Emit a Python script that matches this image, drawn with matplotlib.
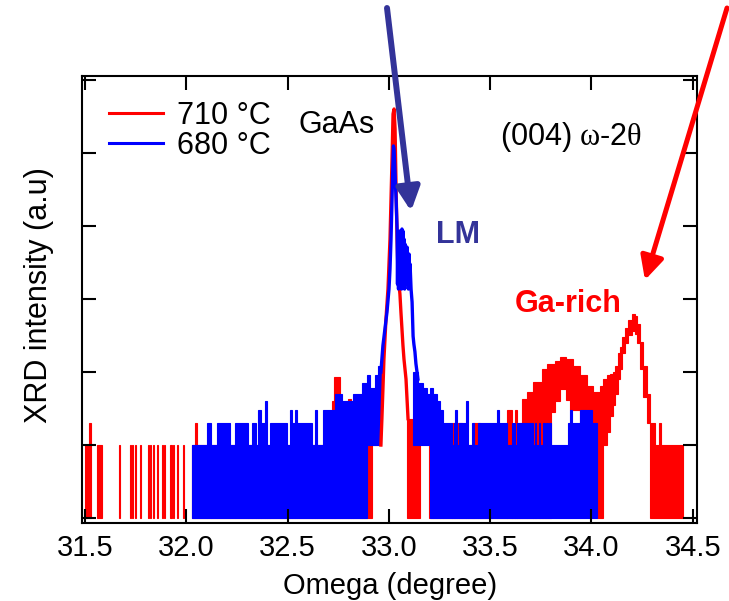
import numpy as np
import matplotlib
matplotlib.use("Agg")
import matplotlib.pyplot as plt
from matplotlib.lines import Line2D
from matplotlib.ticker import LogLocator, NullLocator, FixedLocator

plt.rcParams['font.family'] = ['Liberation Sans', 'DejaVu Sans']
plt.rcParams['mathtext.fontset'] = 'custom'
plt.rcParams['mathtext.rm'] = 'Liberation Serif'
plt.rcParams['mathtext.it'] = 'Liberation Serif'

# ---------------- data (omega in degree, intensity in counts) ----------------
# noisy parts drawn as min/max envelope segments: start, end, max, min
red_x0 = [31.499, 31.521, 31.558, 31.665, 31.719, 31.729, 31.744, 31.768, 31.808, 31.818,
          31.833, 31.852, 31.877, 31.887, 31.921, 31.931, 31.951, 31.981,
          32.027, 32.042, 32.052, 32.720, 32.728, 32.758, 32.800, 32.812, 32.891, 32.916,
          33.089, 33.197, 33.311, 33.360, 33.415, 33.449, 33.583, 33.607, 33.622, 33.632,
          33.647, 33.657, 33.681, 33.711, 33.756, 33.780, 33.800, 33.820, 33.844, 33.874,
          33.894, 33.909, 33.943, 33.978, 34.007, 34.027, 34.042, 34.057, 34.077, 34.091,
          34.106, 34.116, 34.131, 34.141, 34.151, 34.165, 34.180, 34.200, 34.215, 34.225,
          34.240, 34.254, 34.274, 34.289, 34.314, 34.333, 34.343]
red_x1 = [31.514, 31.526, 31.583, 31.670, 31.724, 31.734, 31.749, 31.773, 31.813, 31.823,
          31.838, 31.857, 31.882, 31.892, 31.926, 31.936, 31.956, 31.986,
          32.042, 32.052, 32.720, 32.728, 32.758, 32.800, 32.812, 32.891, 32.916, 32.960,
          33.153, 33.311, 33.360, 33.415, 33.449, 33.583, 33.607, 33.622, 33.632, 33.647,
          33.657, 33.681, 33.711, 33.756, 33.780, 33.800, 33.820, 33.844, 33.874, 33.894,
          33.909, 33.943, 33.978, 34.007, 34.027, 34.042, 34.057, 34.077, 34.091, 34.106,
          34.116, 34.131, 34.141, 34.151, 34.165, 34.180, 34.200, 34.215, 34.225, 34.240,
          34.254, 34.274, 34.289, 34.314, 34.333, 34.343, 34.452]
red_hi = [1, 2, 1, 1, 1, 1, 1, 1, 1, 1,
          1, 1, 1, 1, 1, 1, 1, 1,
          1, 2, 1, 4, 8.5, 1, 4.3, 1, 3, 4,
          2.3, 1, 2, 1, 2, 1, 3, 1, 3, 1,
          2, 4.3, 5.3, 7.3, 11, 13, 13, 14, 16, 15,
          15, 12, 9, 6.4, 5.3, 5.3, 6.4, 8, 9, 9.5,
          10, 12, 18, 22, 30, 40, 52, 62, 58, 45,
          26, 12, 5, 2, 1, 2, 1]
red_lo = [0, 0, 0, 0, 0, 0, 0, 0, 0, 0,
          0, 0, 0, 0, 0, 0, 0, 0,
          0, 0, 0, 0, 0, 0, 0, 0, 0, 1,
          0, 0, 0, 0, 0, 0, 0, 0, 0, 0,
          0, 0, 0, 0, 0, 0, 2.8, 4, 5.8, 4.2,
          3, 3, 1.5, 1.5, 1.5, 0, 0, 1, 1.5, 2.5,
          3.5, 5, 8, 11, 18, 25, 32, 36, 33, 25,
          11, 4.5, 2, 0, 0, 0, 0]

# GaAs substrate peak (smooth part), 710 C
red_peak_x = [32.960, 32.965, 32.970, 32.975, 32.980, 32.985, 32.995, 33.000, 33.005, 33.010,
              33.015, 33.020, 33.025, 33.030, 33.035, 33.040, 33.044, 33.049, 33.054, 33.059,
              33.064, 33.069, 33.074, 33.084, 33.089, 33.094]
red_peak_y = [1, 2.3, 5.8, 15, 28, 53, 137, 302, 664, 2340,
              8280, 34200, 40100, 21300, 3210, 664, 258, 160, 117, 66,
              39, 23, 15, 8, 4.3, 2.3]

blue_x0 = [32.027, 32.101, 32.121, 32.151, 32.215, 32.240, 32.304, 32.323, 32.343, 32.353,
           32.368, 32.388, 32.398, 32.412, 32.496, 32.511, 32.521, 32.536, 32.546, 32.620,
           32.635, 32.644, 32.674, 32.733, 32.768, 32.822, 32.867, 32.891, 32.906, 32.931,
           32.946, 33.119, 33.143, 33.168, 33.188, 33.202, 33.217, 33.237, 33.252, 33.267,
           33.311, 33.321, 33.326, 33.336, 33.346, 33.380, 33.390, 33.410, 33.420, 33.440,
           33.533, 33.543, 33.583, 33.607, 33.622, 33.632, 33.711, 33.720, 33.728, 33.741,
           33.748, 33.760, 33.768, 33.775, 33.783, 33.790, 33.798, 33.884, 33.894, 33.904,
           33.943, 34.002]
blue_x1 = [32.101, 32.121, 32.151, 32.215, 32.240, 32.304, 32.323, 32.343, 32.353, 32.368,
           32.388, 32.398, 32.412, 32.496, 32.511, 32.521, 32.536, 32.546, 32.620, 32.635,
           32.644, 32.674, 32.733, 32.768, 32.822, 32.867, 32.891, 32.906, 32.931, 32.946,
           32.960, 33.143, 33.168, 33.188, 33.202, 33.217, 33.237, 33.252, 33.267, 33.311,
           33.321, 33.326, 33.336, 33.346, 33.380, 33.390, 33.410, 33.420, 33.440, 33.533,
           33.543, 33.583, 33.607, 33.622, 33.632, 33.711, 33.720, 33.728, 33.741, 33.748,
           33.760, 33.768, 33.775, 33.783, 33.790, 33.798, 33.884, 33.894, 33.904, 33.943,
           34.002, 34.027]
blue_hi = [1, 2, 1, 2, 1, 2, 1, 2, 1, 3,
           2, 4, 1, 2, 1, 3, 2, 3, 2, 1,
           3, 1, 3, 5, 4, 5, 7, 9, 6, 9,
           12, 10, 7, 6, 5, 6, 5, 4, 3, 2,
           1, 2, 3, 1, 2, 4, 1, 2, 1, 2,
           3, 2, 1, 2, 1, 2, 1, 2, 1, 2,
           1, 2, 1, 2, 1, 2, 1, 2, 3, 2,
           3, 2]
blue_lo = [0, 0, 0, 0, 0, 0, 0, 0, 0, 0,
           0, 0, 0, 0, 0, 0, 0, 0, 0, 0,
           0, 0, 0, 0, 0, 0, 0, 1, 1, 1,
           1, 1, 1, 1, 1, 0, 0, 0, 0, 0,
           0, 0, 0, 0, 0, 0, 0, 0, 0, 0,
           0, 0, 0, 0, 0, 0, 0, 0, 0, 0,
           0, 0, 0, 0, 0, 0, 0, 0, 0, 0,
           0, 0]

# GaAs peak + LM shoulder, 680 C
blue_peak_x = [32.960, 32.970, 32.980, 32.990, 33.000, 33.005, 33.010, 33.015, 33.020, 33.022,
               33.025, 33.030, 33.035, 33.040, 33.042, 33.044, 33.047, 33.049, 33.052, 33.054,
               33.057, 33.059, 33.062, 33.064, 33.067, 33.069, 33.072, 33.074, 33.077, 33.079,
               33.081, 33.084, 33.086, 33.089, 33.091, 33.094, 33.096, 33.099, 33.101, 33.104,
               33.109, 33.114, 33.119, 33.123, 33.128, 33.133, 33.143]
blue_peak_y = [10, 23, 39, 66, 137, 258, 664, 2340, 8280, 12500,
               11300, 5160, 2340, 910, 160, 664, 137, 780, 188, 855,
               220, 567, 137, 910, 258, 855, 188, 664, 137, 567,
               220, 484, 160, 515, 188, 413, 137, 413, 160, 302,
               137, 91, 31, 24, 19, 13, 8]

series_labels = ['710 °C', '680 °C']
x_ticks = [31.5, 32.0, 32.5, 33.0, 33.5, 34.0, 34.5]
x_tick_labels = ['31.5', '32.0', '32.5', '33.0', '33.5', '34.0', '34.5']

# ---------------- figure ----------------
W, H = 729, 601
fig = plt.figure(figsize=(W / 100, H / 100), dpi=100)
ax = fig.add_axes([82 / W, 1 - 523 / H, 615 / W, 447 / H])
ax.set_yscale('log')
FLOOR = 0.1
RED, BLUE, NAVY = '#ff0000', '#0000ff', '#333399'


def band(x0, x1, hi, lo, color):
    x0 = np.asarray(x0, float)
    x1 = np.asarray(x1, float)
    hi = np.clip(np.asarray(hi, float), FLOOR, None)
    lo = np.clip(np.asarray(lo, float), FLOOR, None)
    m = hi > lo
    ax.bar(x0[m], hi[m] - lo[m], bottom=lo[m], width=(x1 - x0)[m], align='edge',
           color=color, edgecolor=color, linewidth=0.8)


band(red_x0, red_x1, red_hi, red_lo, RED)
ax.plot(red_peak_x, red_peak_y, color=RED, lw=2.4)
band(blue_x0, blue_x1, blue_hi, blue_lo, BLUE)
ax.plot(blue_peak_x, blue_peak_y, color=BLUE, lw=2.4)

ax.set_xlim(31.484, 34.521)
ax.set_ylim(10 ** -1.068, 10 ** 5.055)

ax.xaxis.set_major_locator(FixedLocator(x_ticks))
ax.set_xticklabels(x_tick_labels)
ax.yaxis.set_major_locator(LogLocator(base=10, numticks=20))
ax.yaxis.set_minor_locator(NullLocator())
ax.tick_params(which='major', direction='in', length=10, width=1.5, top=True, right=True,
               labelleft=False, labelsize=21, pad=8)
for s in ax.spines.values():
    s.set_linewidth(1.5)

handles = [Line2D([], [], color=RED, lw=2.2), Line2D([], [], color=BLUE, lw=2.2)]
ax.legend(handles, series_labels, loc='upper left', bbox_to_anchor=(0.044, 0.945),
          frameon=False, borderpad=0, borderaxespad=0, handlelength=1.76,
          handletextpad=0.45, labelspacing=0.0, fontsize=22)


def ftext(px, py, s, **kw):
    fig.text(px / W, 1 - py / H, s, **kw)


ftext(298, 133, 'GaAs', fontsize=22, va='baseline')
ftext(500, 145, r'(004) $\omega$-2$\theta$', fontsize=22, va='baseline')
ftext(436, 243, 'LM', fontsize=22, fontweight='bold', color=NAVY, va='baseline')
ftext(515, 312, 'Ga-rich', fontsize=22, fontweight='bold', color=RED, va='baseline')
ftext(390, 594, 'Omega (degree)', fontsize=21, ha='center', va='baseline')
ftext(39, 295, 'XRD intensity (a.u)', fontsize=22, rotation=90, ha='center', va='center')

ax.annotate('', xy=(33.109, 1600), xycoords='data', xytext=(387 / W, 1 - 8 / H),
            textcoords='figure fraction', annotation_clip=False,
            arrowprops=dict(arrowstyle='-|>,head_length=0.7,head_width=0.35', color=NAVY,
                            lw=4.3, shrinkA=0, shrinkB=0, mutation_scale=20))
ax.annotate('', xy=(34.264, 182), xycoords='data', xytext=(727 / W, 1 - 8 / H),
            textcoords='figure fraction', annotation_clip=False,
            arrowprops=dict(arrowstyle='-|>,head_length=0.7,head_width=0.35', color=RED,
                            lw=3.6, shrinkA=0, shrinkB=0, mutation_scale=20))

fig.savefig('out.png', dpi=100)
